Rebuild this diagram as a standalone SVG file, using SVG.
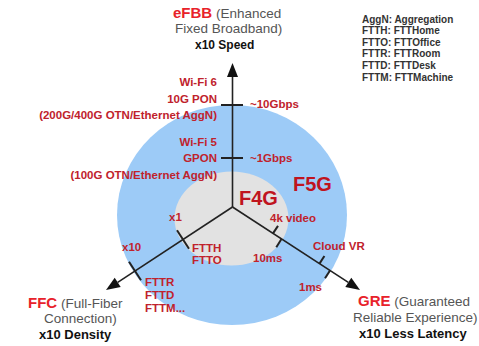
<svg xmlns="http://www.w3.org/2000/svg" width="479" height="346" viewBox="0 0 479 346">
<style>
.lbl{font-family:"Liberation Sans",Arial,sans-serif;font-weight:bold;font-size:11.5px;fill:#c0222c}
.big{font-family:"Liberation Sans",Arial,sans-serif;font-weight:bold;font-size:20px;fill:#c0141e}
.ttl{font-family:"Liberation Sans",Arial,sans-serif;font-weight:bold;font-size:15px;fill:#e8222a}
.sub{font-family:"Liberation Sans",Arial,sans-serif;font-weight:normal;font-size:13.5px;fill:#555555}
.mul{font-family:"Liberation Sans",Arial,sans-serif;font-weight:bold;font-size:13px;fill:#111111}
.leg{font-family:"Liberation Sans",Arial,sans-serif;font-weight:bold;font-size:10px;fill:#333333}
.ax{stroke:#222222;stroke-width:1.6;fill:none}
.tk{stroke:#222222;stroke-width:2;fill:none}
.ah{fill:#111111}
</style>
<rect width="479" height="346" fill="#ffffff"/>
<g id="f5g-zone">
<ellipse cx="232" cy="215" rx="115" ry="110" fill="#9dcbf7"/>
<text class="big" x="293" y="191">F5G</text>
</g>
<g id="f4g-zone">
<ellipse cx="231.5" cy="218.5" rx="57" ry="47" fill="#e2e2e2"/>
<text class="big" x="239" y="205">F4G</text>
</g>
<g id="connectors">
<line class="ax" x1="232.5" y1="207" x2="232.5" y2="76"/>
<polygon class="ah" points="232.5,63 227,77 238,77"/>
<line class="ax" x1="232.5" y1="207" x2="117.7" y2="282.3"/>
<polygon class="ah" points="106,290 120.7,286.9 114.7,277.7"/>
<line class="ax" x1="232.5" y1="207" x2="348.3" y2="282.3"/>
<polygon class="ah" points="360,290 345.3,286.9 351.3,277.7"/>
<line class="tk" x1="221" y1="105" x2="243" y2="105"/>
<line class="tk" x1="221" y1="158" x2="243" y2="158"/>
<line class="tk" x1="177" y1="230.3" x2="189" y2="248.7"/>
<line class="tk" x1="129" y1="261.8" x2="141" y2="280.2"/>
<line class="tk" x1="273" y1="233.4" x2="278" y2="225.9"/>
<line class="tk" x1="281.5" y1="239" x2="276.3" y2="247.3"/>
<line class="tk" x1="319.5" y1="263.6" x2="324.4" y2="256"/>
<line class="tk" x1="330" y1="270.5" x2="325" y2="278.3"/>
</g>
<g id="efbb">
<text x="173" y="18"><tspan class="ttl">eFBB</tspan><tspan class="sub" dx="0"> (Enhanced</tspan></text>
<text class="sub" x="175" y="33">Fixed Broadband)</text>
<text class="mul" x="195" y="49" style="font-size:12px">x10 Speed</text>
</g>
<g id="ffc">
<text x="28" y="308"><tspan class="ttl">FFC</tspan><tspan class="sub"> (Full-Fiber</tspan></text>
<text class="sub" x="44" y="323">Connection)</text>
<text class="mul" x="39" y="339">x10 Density</text>
</g>
<g id="gre">
<text x="358" y="306"><tspan class="ttl">GRE</tspan><tspan class="sub"> (Guaranteed</tspan></text>
<text class="sub" x="353" y="321.5">Reliable Experience)</text>
<text class="mul" x="359" y="337.5">x10 Less Latency</text>
</g>
<g id="legend">
<text class="leg" x="362" y="22.5">AggN: Aggregation</text>
<text class="leg" x="362" y="34.2">FTTH: FTTHome</text>
<text class="leg" x="362" y="45.8">FTTO: FTTOffice</text>
<text class="leg" x="362" y="57.4">FTTR: FTTRoom</text>
<text class="leg" x="362" y="69">FTTD: FTTDesk</text>
<text class="leg" x="362" y="80.6">FTTM: FTTMachine</text>
</g>
<g id="speed-labels">
<text class="lbl" x="217" y="86" text-anchor="end">Wi-Fi 6</text>
<text class="lbl" x="217" y="102.5" text-anchor="end">10G PON</text>
<text class="lbl" x="217" y="119" text-anchor="end">(200G/400G OTN/Ethernet AggN)</text>
<text class="lbl" x="217" y="145.5" text-anchor="end">Wi-Fi 5</text>
<text class="lbl" x="217" y="162" text-anchor="end">GPON</text>
<text class="lbl" x="217" y="179" text-anchor="end">(100G OTN/Ethernet AggN)</text>
<text class="lbl" x="250" y="108">~10Gbps</text>
<text class="lbl" x="250" y="162">~1Gbps</text>
</g>
<g id="density-labels">
<text class="lbl" x="169" y="221">x1</text>
<text class="lbl" x="122" y="251">x10</text>
<text class="lbl" x="192" y="251.5">FTTH</text>
<text class="lbl" x="192" y="264">FTTO</text>
<text class="lbl" x="145" y="285.5">FTTR</text>
<text class="lbl" x="145" y="298.5">FTTD</text>
<text class="lbl" x="145" y="311.5">FTTM...</text>
</g>
<g id="latency-labels">
<text class="lbl" x="270" y="222">4k video</text>
<text class="lbl" x="253" y="261.7">10ms</text>
<text class="lbl" x="313" y="250">Cloud VR</text>
<text class="lbl" x="299" y="291.3">1ms</text>
</g>
</svg>
